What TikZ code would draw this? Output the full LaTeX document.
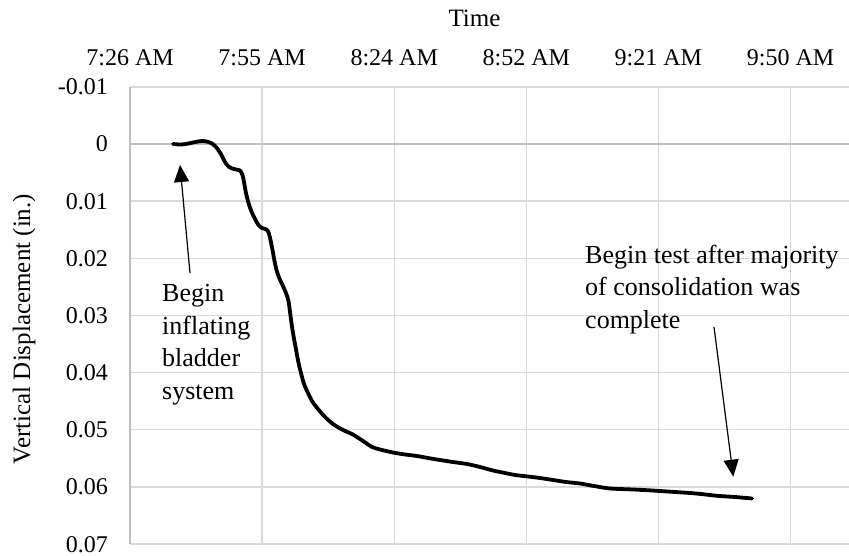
\documentclass[tikz,border=0pt]{standalone}
\usepackage{fontspec}
\setmainfont{Liberation Serif}
\usetikzlibrary{arrows.meta}
\definecolor{gridgray}{HTML}{D9D9D9}
\definecolor{axisgray}{HTML}{BFBFBF}
\tikzset{
  gridline/.style={draw=gridgray, line width=1.3pt},
  axisline/.style={draw=axisgray, line width=1.3pt},
  ticklbl/.style={inner sep=0pt, font=\fontsize{24}{28}\selectfont},
  titlelbl/.style={inner sep=0pt, font=\fontsize{25}{30}\selectfont},
  annot/.style={inner sep=0pt, align=left, font=\fontsize{26}{32.5}\selectfont},
  pointer/.style={line width=1.2pt, -{Triangle[width=15pt,length=17pt]}},
  datacurve/.style={line width=3.8pt, line join=round, line cap=round}
}
\begin{document}
\begin{tikzpicture}[x=1pt,y=-1pt]
\useasboundingbox (0,0) rectangle (849,556);
% horizontal gridlines
\foreach \yy in {86.9,201.1,258.3,315.4,372.6,429.7,486.9,544}{
  \draw[gridline] (130,\yy) -- (849,\yy);
}
% vertical gridlines
\foreach \xx in {262.1,394.2,526.3,658.4,790.5}{
  \draw[gridline] (\xx,86.9) -- (\xx,544);
}
% axis lines
\draw[axisline] (130,86.9) -- (130,544);
\draw[axisline] (130,144) -- (849,144);
% top tick labels
\foreach \xx/\t in {130/7:26 AM,262.1/7:55 AM,394.2/8:24 AM,526.3/8:52 AM,658.4/9:21 AM,790.5/9:50 AM}{
  \node[ticklbl, anchor=base] at (\xx,66) {\t};
}
% left tick labels
\foreach \yy/\t in {86.9/-0.01,144/0,201.1/0.01,258.3/0.02,315.4/0.03,372.6/0.04,429.7/0.05,486.9/0.06,544/0.07}{
  \node[ticklbl, anchor=base east] at (108,\yy+8) {\t};
}
% axis titles
\node[titlelbl, anchor=base] (ttime) at (474.5,26.5) {Time};
\node[titlelbl, rotate=90] (tvert) at (24,329) {Vertical Displacement (in.)};
% data curve
\draw[datacurve] plot[smooth, tension=0.5] coordinates {
(173,144) (180,144.5) (186,144) (193,142.5) (198,141.5) (203,141) (208,141.8) (212,143.5) (216,147) (219,151) (222,156) (225,162) (228.5,166.5) (232,168.5) (236,169.5) (240,170.5) (242.5,175) (244,182) (246,193) (248.5,203) (251.5,211.5) (255,219) (258.5,225) (262,228) (266.5,229.5) (268.5,232) (270.5,240) (272.5,250) (274.5,261) (276.5,270) (279,277.5) (282.5,285) (286,293) (288.5,301) (290,312) (291.5,323) (293,333) (295,344) (297,355) (299,365) (301.5,375) (304,384) (308,393) (312,401) (318,409) (325,417) (333,424) (343,430) (352,434) (360,439) (366,443) (372,447) (380,449.5) (393,452.5) (405,454.5) (417,456) (428,458) (440,460) (453,462) (467,464) (480,467) (493,470.5) (505,473) (515,475) (528,476.5) (540,478) (553,480) (566,482) (580,483.5) (594,486) (608,488.3) (620,489) (633,489.5) (647,490.2) (660,491) (675,492) (690,493) (703,494.2) (717,495.8) (735,497) (752,498.5)};
% annotations (base anchor = baseline of the last line)
\node[annot, anchor=base west] (a1) at (162,399.2) {Begin\\inflating\\bladder\\system};
\node[annot, anchor=base west] (a2) at (585,328) {Begin test after majority\\of consolidation was\\complete};
\coordinate (a1from) at (190,273);
\coordinate (a1tip) at (180,165);
\coordinate (a2from) at (714,327);
\coordinate (a2tip) at (733.3,476.7);
\draw[pointer] (a1from) -- (a1tip);
\draw[pointer] (a2from) -- (a2tip);
\end{tikzpicture}
\end{document}
